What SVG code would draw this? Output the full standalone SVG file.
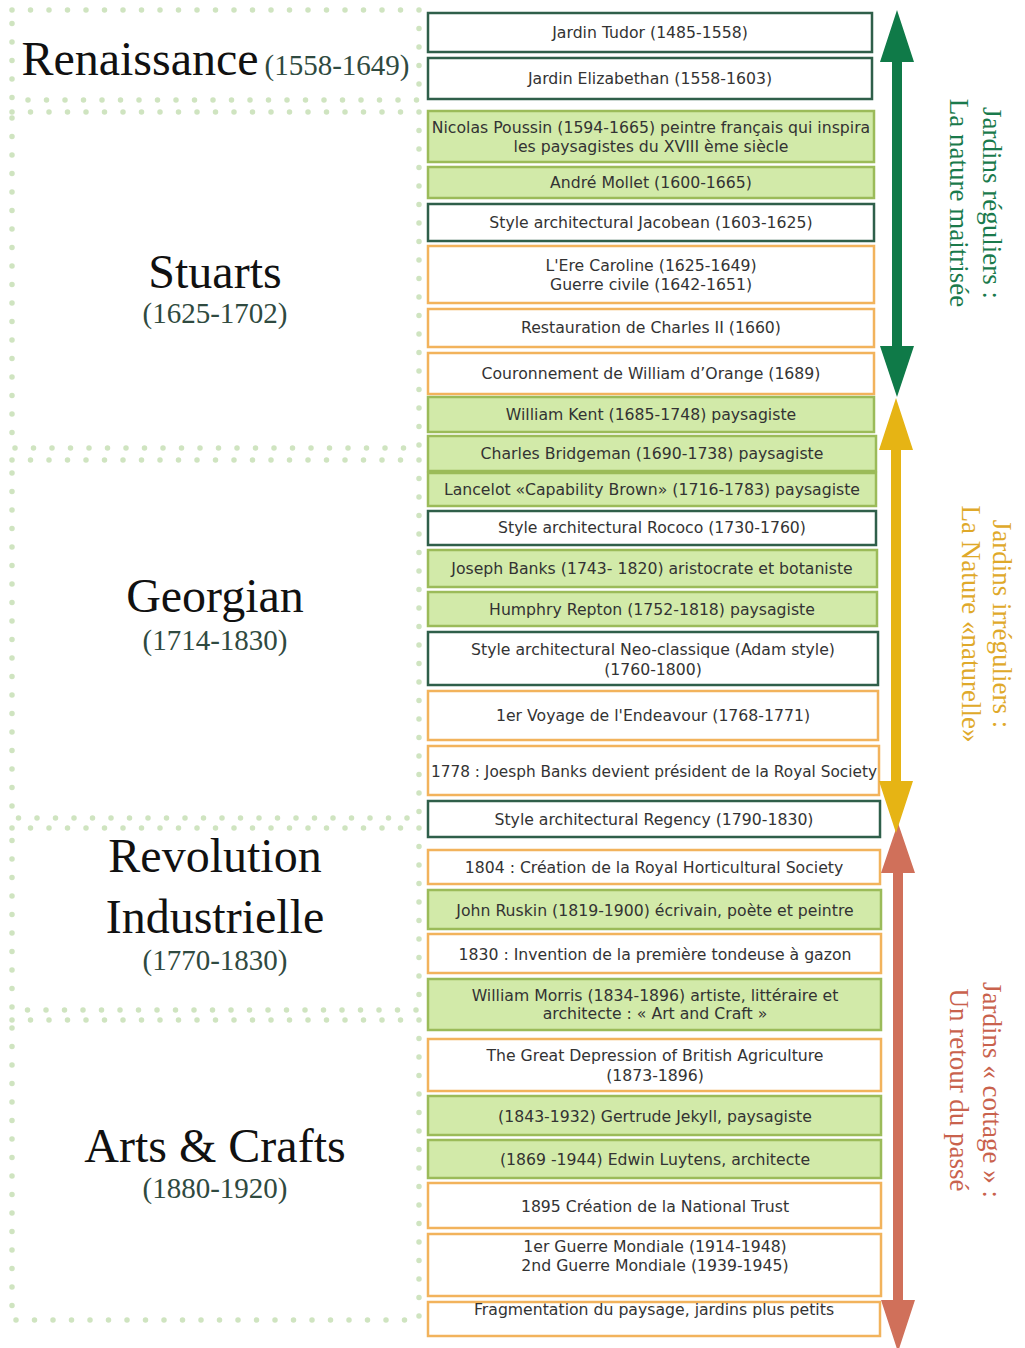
<svg xmlns="http://www.w3.org/2000/svg" width="1025" height="1348" viewBox="0 0 1025 1348">
<style>
.dots{fill:none;stroke:#cfe4c0;stroke-width:5.5;stroke-linecap:round;stroke-dasharray:0 18.5}
.per{font-family:"Liberation Serif",serif;font-size:48px;fill:#111;text-anchor:middle}
.yr{font-family:"Liberation Serif",serif;font-size:29px;fill:#2f4a40;text-anchor:middle}
.b rect{stroke-width:2.5}
.dk{fill:#fff;stroke:#2f5f4a}
.gr{fill:#d2eaa9;stroke:#9bbb59}
.or{fill:#fff;stroke:#f2b35c}
.t{font-family:"DejaVu Sans",sans-serif;font-size:15.7px;fill:#333;text-anchor:middle}
.side{font-family:"Liberation Serif",serif;font-size:27px;text-anchor:middle}
</style>
<rect width="1025" height="1348" fill="#fff"/>
<g id="periods">
<g id="p-renaissance"><rect class="dots" x="12" y="10" width="407" height="90"/>
<text x="140" y="75" class="per" font-size="47">Renaissance</text><text x="337" y="75" class="yr">(1558-1649)</text></g>
<g id="p-stuarts"><rect class="dots" x="12" y="112" width="407" height="336"/>
<text x="215" y="288" class="per">Stuarts</text><text x="215" y="323" class="yr">(1625-1702)</text></g>
<g id="p-georgian"><rect class="dots" x="12" y="460" width="407" height="358"/>
<text x="215" y="612" class="per">Georgian</text><text x="215" y="650" class="yr">(1714-1830)</text></g>
<g id="p-revolution"><rect class="dots" x="12" y="828" width="407" height="182"/>
<text x="215" y="872" class="per">Revolution</text><text x="215" y="933" class="per">Industrielle</text><text x="215" y="970" class="yr">(1770-1830)</text></g>
<g id="p-arts"><rect class="dots" x="12" y="1020" width="407" height="300"/>
<text x="215" y="1162" class="per">Arts &amp; Crafts</text><text x="215" y="1198" class="yr">(1880-1920)</text></g>
</g>
<g id="events" class="b">
<g id="e1"><rect class="dk" x="428" y="13" width="444" height="39"/><text class="t" x="650" y="38">Jardin Tudor (1485-1558)</text></g>
<g id="e2"><rect class="dk" x="428" y="58" width="444" height="41"/><text class="t" x="650" y="84">Jardin Elizabethan (1558-1603)</text></g>
<g id="e3"><rect class="gr" x="428" y="111" width="446" height="51"/><text class="t" x="651" y="133">Nicolas Poussin (1594-1665) peintre français qui inspira</text><text class="t" x="651" y="152">les paysagistes du XVIII ème siècle</text></g>
<g id="e4"><rect class="gr" x="428" y="167" width="446" height="31"/><text class="t" x="651" y="188">André Mollet (1600-1665)</text></g>
<g id="e5"><rect class="dk" x="428" y="204" width="446" height="37"/><text class="t" x="651" y="228">Style architectural Jacobean (1603-1625)</text></g>
<g id="e6"><rect class="or" x="428" y="246" width="446" height="57"/><text class="t" x="651" y="271">L'Ere Caroline (1625-1649)</text><text class="t" x="651" y="290">Guerre civile (1642-1651)</text></g>
<g id="e7"><rect class="or" x="428" y="309" width="446" height="38"/><text class="t" x="651" y="333">Restauration de Charles II (1660)</text></g>
<g id="e8"><rect class="or" x="428" y="353" width="446" height="41"/><text class="t" x="651" y="379">Couronnement de William d’Orange (1689)</text></g>
<g id="e9"><rect class="gr" x="428" y="397" width="446" height="35"/><text class="t" x="651" y="420">William Kent (1685-1748) paysagiste</text></g>
<g id="e10"><rect class="gr" x="428" y="436" width="448" height="35"/><text class="t" x="652" y="459">Charles Bridgeman (1690-1738) paysagiste</text></g>
<g id="e11"><rect class="gr" x="428" y="473" width="448" height="33"/><text class="t" x="652" y="495">Lancelot «Capability Brown» (1716-1783) paysagiste</text></g>
<g id="e12"><rect class="dk" x="428" y="511" width="448" height="34"/><text class="t" x="652" y="533">Style architectural Rococo (1730-1760)</text></g>
<g id="e13"><rect class="gr" x="428" y="550" width="449" height="37"/><text class="t" x="652" y="574">Joseph Banks (1743- 1820) aristocrate et botaniste</text></g>
<g id="e14"><rect class="gr" x="428" y="592" width="449" height="34"/><text class="t" x="652" y="615">Humphry Repton (1752-1818) paysagiste</text></g>
<g id="e15"><rect class="dk" x="428" y="632" width="450" height="53"/><text class="t" x="653" y="655">Style architectural Neo-classique (Adam style)</text><text class="t" x="653" y="675">(1760-1800)</text></g>
<g id="e16"><rect class="or" x="428" y="691" width="450" height="49"/><text class="t" x="653" y="721">1er Voyage de l'Endeavour (1768-1771)</text></g>
<g id="e17"><rect class="or" x="428" y="746" width="451" height="49"/><text class="t" x="654" y="777" textLength="446" lengthAdjust="spacingAndGlyphs">1778 : Joesph Banks devient président de la Royal Society</text></g>
<g id="e18"><rect class="dk" x="428" y="801" width="452" height="36"/><text class="t" x="654" y="825">Style architectural Regency (1790-1830)</text></g>
<g id="e19"><rect class="or" x="428" y="850" width="452" height="34"/><text class="t" x="654" y="873">1804 : Création de la Royal Horticultural Society</text></g>
<g id="e20"><rect class="gr" x="428" y="890" width="453" height="39"/><text class="t" x="655" y="916">John Ruskin (1819-1900) écrivain, poète et peintre</text></g>
<g id="e21"><rect class="or" x="428" y="934" width="453" height="39"/><text class="t" x="655" y="960">1830 : Invention de la première tondeuse à gazon</text></g>
<g id="e22"><rect class="gr" x="428" y="979" width="453" height="51"/><text class="t" x="655" y="1001">William Morris (1834-1896) artiste, littéraire et</text><text class="t" x="655" y="1019">architecte : « Art and Craft »</text></g>
<g id="e23"><rect class="or" x="428" y="1039" width="453" height="52"/><text class="t" x="655" y="1061">The Great Depression of British Agriculture</text><text class="t" x="655" y="1081">(1873-1896)</text></g>
<g id="e24"><rect class="gr" x="428" y="1096" width="453" height="39"/><text class="t" x="655" y="1122">(1843-1932) Gertrude Jekyll, paysagiste</text></g>
<g id="e25"><rect class="gr" x="428" y="1140" width="453" height="38"/><text class="t" x="655" y="1165">(1869 -1944) Edwin Luytens, architecte</text></g>
<g id="e26"><rect class="or" x="428" y="1183" width="453" height="45"/><text class="t" x="655" y="1212">1895 Création de la National Trust</text></g>
<g id="e27"><rect class="or" x="428" y="1234" width="453" height="62"/><text class="t" x="655" y="1252">1er Guerre Mondiale (1914-1948)</text><text class="t" x="655" y="1271">2nd Guerre Mondiale (1939-1945)</text></g>
<g id="e28"><rect class="or" x="428" y="1302" width="452" height="34"/><text class="t" x="654" y="1315">Fragmentation du paysage, jardins plus petits</text></g>
</g>
<g id="connectors">
<polygon id="arrow-red" fill="#d0705a" points="898,823 915,873 903,873 903,1300 915,1300 898,1352 881,1300 893,1300 893,873 881,873"/>
<polygon id="arrow-yellow" fill="#e6b414" points="896,398 913,450 901,450 901,781 913,781 896,833 879,781 891,781 891,450 879,450"/>
<polygon id="arrow-green" fill="#0f7a48" points="897,10 914,62 902,62 902,346 914,346 897,397 880,346 892,346 892,62 880,62"/>
</g>
<g id="labels">
<g id="lab-green"><text class="side" transform="translate(983,203) rotate(90)" fill="#1a7a4c">Jardins réguliers :</text><text class="side" transform="translate(950,203) rotate(90)" fill="#1a7a4c">La nature maitrisée</text></g>
<g id="lab-yellow"><text class="side" transform="translate(993,624) rotate(90)" fill="#dfa92a">Jardins irréguliers :</text><text class="side" transform="translate(962,624) rotate(90)" fill="#dfa92a">La Nature «naturelle»</text></g>
<g id="lab-red"><text class="side" transform="translate(983,1090) rotate(90)" fill="#c9624d">Jardins « cottage » :</text><text class="side" transform="translate(950,1090) rotate(90)" fill="#c9624d">Un retour du passé</text></g>
</g>
</svg>
